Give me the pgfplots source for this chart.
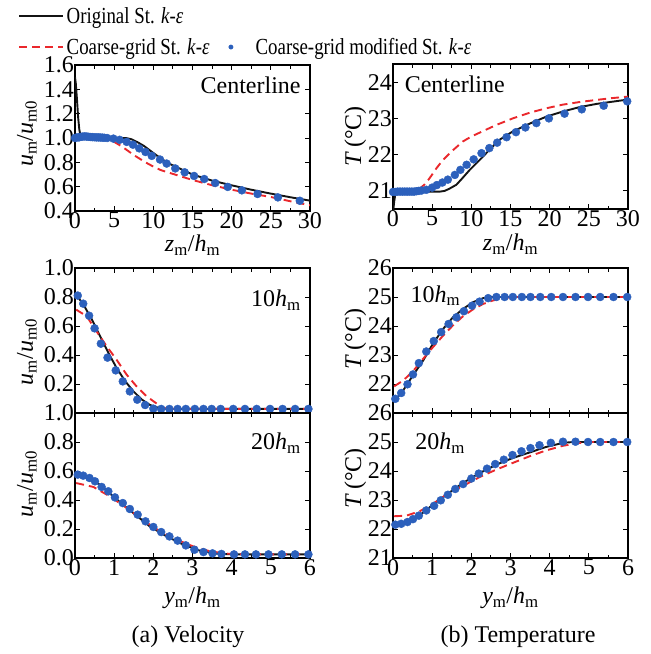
\documentclass[border=0pt]{standalone}
\usepackage{fontspec}
\setmainfont{Liberation Serif}
\newfontfamily\legfont{Liberation Serif}[FakeStretch=0.82]
\usepackage{pgfplots}
\pgfplotsset{compat=1.18}

\definecolor{cblack}{RGB}{20,20,20}
\definecolor{cred}{RGB}{234,40,44}
\definecolor{cblue}{RGB}{44,96,188}

\newcommand{\fs}{\fontsize{24}{26}\selectfont}
\newcommand{\lfs}{\legfont\fontsize{23}{25}\selectfont}
\newcommand{\sub}[1]{\textsubscript{#1}}
\newcommand{\uratio}{\textit{u}\sub{m}/\textit{u}\sub{m0}}
\newcommand{\Tlab}{\textit{T}\,(°C)}

\pgfplotsset{
  panel/.style={
    scale only axis, width=235pt, height=145pt, anchor=north west,
    axis line style={line width=1.1pt},
    every tick/.style={line width=0.9pt, black},
    major tick length=5pt, minor tick length=3.5pt,
    tick label style={font=\fs, inner sep=1pt},
    label style={font=\fs},
    /pgf/number format/assume math mode=true,
    xmin=0,
  },
  vel/.style={yticklabel style={/pgf/number format/.cd, fixed, fixed zerofill, precision=1}},
  prof/.style={xmax=6, xtick={0,1,...,6}, minor x tick num=1},
  orig/.style={cblack, line width=1.9pt, no marks},
  coarse/.style={cred, line width=1.9pt, dash pattern=on 8pt off 5pt, no marks},
  modif/.style={only marks, mark=*, mark size=4pt, color=cblue, mark options={draw=cblue, fill=cblue}},
  modifleg/.style={modif, legend image code/.code={\path (0pt,0pt) (44pt,0pt); \draw[##1, mark size=2.2pt] plot coordinates {(22pt,0pt)};}},
  leg/.style={legend style={draw=none, fill=none, font=\lfs, inner sep=0pt,
    row sep=8pt, nodes={inner sep=2.5pt}}, legend cell align=left},
}

\begin{document}
\begin{tikzpicture}
\useasboundingbox (0,0) rectangle (651pt,-654pt);

% ---------- (a) velocity, centerline
\begin{axis}[panel, vel, leg, at={(75pt,-65pt)}, height=146pt,
  xmax=30, ymin=0.4, ymax=1.6,
  xtick={0,5,...,30}, minor x tick num=1,
  ytick={0.4,0.6,0.8,1.0,1.2,1.4,1.6},
  xlabel={\textit{z}\sub{m}/\textit{h}\sub{m}},
  ylabel={\uratio},
  xlabel style={at={(axis description cs:0.5,-0.235)}, anchor=center},
  ylabel style={at={(axis description cs:-0.205,0.53)}, anchor=center},
  legend style={at={(axis description cs:-0.242,1.411)}, anchor=north west},
  legend image code/.code={\draw[#1] (0pt,0pt) -- (44pt,0pt);},
]
\addplot[orig] coordinates {(0,1.50) (0.1,1.45) (0.25,1.32) (0.4,1.17) (0.55,1.07) (0.7,1.02) (0.9,1.005) (1.2,1.0) (3,1.0) (5,1.0) (6.5,1.0) (7.2,0.99) (8,0.965) (8.8,0.935) (10,0.877) (11,0.83) (12,0.79) (13.5,0.745) (15,0.70) (17.5,0.65) (20,0.611) (22.5,0.575) (25,0.543) (27.5,0.513) (30,0.485)};
\addlegendentry{Original St. \textit{k}-\textit{ε}}
\addplot[coarse] coordinates {(0,1.0) (2,1.0) (3.5,1.0) (4.2,0.99) (5,0.968) (6,0.93) (7.5,0.86) (9,0.8) (10,0.765) (11,0.735) (12.5,0.705) (15,0.655) (17.5,0.612) (20,0.575) (22.5,0.543) (25,0.515) (27.5,0.48) (30,0.447)};
\addlegendentry{Coarse-grid St. \textit{k}-\textit{ε}}
\addplot[modif, forget plot] coordinates {(0,1.0) (0.25,1.005) (0.5,1.005) (0.75,1.01) (1.0,1.012) (1.25,1.013) (1.5,1.012) (1.75,1.01) (2.0,1.008) (2.25,1.007) (2.5,1.006) (2.75,1.005) (3.0,1.005) (3.25,1.004) (3.5,1.003) (3.75,1.002) (4.1,1.0) (4.9,0.995) (5.7,0.985) (6.6,0.968) (7.4,0.945) (8.2,0.915) (9.0,0.885) (9.8,0.853) (10.85,0.823) (11.7,0.79) (12.8,0.75) (14.0,0.718) (15.2,0.688) (16.5,0.663) (17.9,0.63) (19.5,0.598) (21.3,0.57) (23.3,0.54) (25.9,0.512) (28.7,0.484)};
\node[font=\fs, anchor=east] at (axis description cs:0.975,0.86) {Centerline};
\end{axis}

% ---------- (b) temperature, centerline
\begin{axis}[panel, leg, at={(393pt,-64pt)},
  xmax=30, ymin=20.5, ymax=24.5,
  xtick={0,5,...,30}, minor x tick num=1,
  ytick={21,22,23,24},
  xlabel={\textit{z}\sub{m}/\textit{h}\sub{m}},
  ylabel={\Tlab},
  xlabel style={at={(axis description cs:0.5,-0.245)}, anchor=center},
  ylabel style={at={(axis description cs:-0.16,0.5)}, anchor=center},
  legend style={at={(axis description cs:-0.785,1.117)}, anchor=west},
]
\addplot[orig, forget plot] coordinates {(0,20.4) (0.15,20.7) (0.3,20.92) (0.5,21.0) (0.8,21.04) (1.1,21.05) (1.5,21.03) (2,21.0) (4,20.98) (6,20.98) (6.6,21.0) (7.2,21.06) (8.1,21.17) (8.9,21.36) (9.8,21.58) (11.1,21.86) (12.3,22.13) (13.6,22.41) (15.3,22.64) (17.5,22.86) (19.6,23.05) (21.7,23.19) (23.8,23.31) (26,23.4) (28,23.46) (30,23.52)};
\addplot[coarse, forget plot] coordinates {(0,20.97) (1,20.98) (2.5,21.0) (3.0,21.02) (3.5,21.08) (4.0,21.17) (4.5,21.3) (5.0,21.45) (5.5,21.61) (6.0,21.75) (6.6,21.9) (7.7,22.13) (8.9,22.36) (10,22.5) (11.1,22.61) (13.2,22.82) (15.3,23.0) (17.5,23.16) (19.6,23.28) (21.7,23.38) (23.8,23.45) (26,23.51) (28,23.56) (30,23.6)};
\addplot[modif, forget plot] coordinates {(0,20.97) (0.3,20.97) (0.6,20.98) (0.9,20.98) (1.2,20.98) (1.5,20.98) (1.8,20.98) (2.1,20.98) (2.4,20.98) (2.7,20.98) (3.0,20.99) (3.3,21.0) (3.65,21.01) (4.26,21.03) (5.0,21.09) (5.6,21.16) (6.3,21.23) (7.0,21.31) (7.9,21.44) (8.6,21.58) (9.4,21.72) (10.3,21.87) (11.3,22.04) (12.3,22.18) (13.3,22.33) (14.5,22.48) (15.7,22.62) (16.9,22.75) (18.3,22.87) (19.9,23.0) (21.9,23.13) (24.1,23.25) (26.9,23.35) (29.9,23.47)};
\addlegendimage{modifleg}
\addlegendentry{Coarse-grid modified St. \textit{k}-\textit{ε}}
\node[font=\fs, anchor=west] at (axis description cs:0.035,0.86) {Centerline};
\end{axis}

% ---------- (a) velocity, 10 hm
\begin{axis}[panel, vel, prof, at={(75pt,-268pt)},
  ymin=0, ymax=1.0, ytick={0.2,0.4,0.6,0.8,1.0}, xticklabels={},
  ylabel={\uratio},
  ylabel style={at={(axis description cs:-0.205,0.42)}, anchor=center},
]
\addplot[orig] coordinates {(0.03,0.816) (0.21,0.75) (0.43,0.646) (0.64,0.53) (0.85,0.416) (1.06,0.312) (1.28,0.22) (1.49,0.15) (1.7,0.094) (1.91,0.056) (2.13,0.036) (2.34,0.029) (3,0.028) (4,0.028) (5,0.028) (6,0.028)};
\addplot[coarse] coordinates {(0.03,0.713) (0.3,0.667) (0.55,0.563) (0.81,0.46) (1.06,0.368) (1.32,0.264) (1.57,0.184) (1.83,0.115) (2.09,0.064) (2.26,0.034) (2.5,0.028) (4,0.028) (6,0.028)};
\addplot[modif] coordinates {(0.07,0.81) (0.21,0.754) (0.36,0.671) (0.5,0.584) (0.66,0.478) (0.83,0.382) (1.04,0.294) (1.22,0.218) (1.4,0.149) (1.59,0.092) (1.79,0.055) (2.0,0.03) (2.2,0.028) (2.41,0.028) (2.62,0.028) (2.83,0.028) (3.06,0.028) (3.28,0.028) (3.49,0.028) (3.72,0.028) (4.04,0.028) (4.34,0.028) (4.64,0.028) (4.98,0.028) (5.3,0.028) (5.62,0.028) (5.96,0.028)};
\node[font=\fs, anchor=east] at (axis description cs:0.975,0.78) {10\textit{h}\sub{m}};
\end{axis}

% ---------- (a) velocity, 20 hm
\begin{axis}[panel, vel, prof, at={(75pt,-413pt)},
  ymin=0, ymax=1.0, ytick={0,0.2,0.4,0.6,0.8,1.0},
  xlabel={\textit{y}\sub{m}/\textit{h}\sub{m}},
  ylabel={\uratio},
  xlabel style={at={(axis description cs:0.5,-0.276)}, anchor=center},
  ylabel style={at={(axis description cs:-0.205,0.51)}, anchor=center},
]
\addplot[orig] coordinates {(0.03,0.568) (0.3,0.552) (0.64,0.506) (1.02,0.414) (1.49,0.31) (1.91,0.218) (2.34,0.149) (2.77,0.092) (3.19,0.05) (3.62,0.03) (4.04,0.025) (5,0.025) (6,0.025)};
\addplot[coarse] coordinates {(0.03,0.517) (0.47,0.49) (0.89,0.425) (1.32,0.345) (1.74,0.26) (2.17,0.184) (2.6,0.126) (3.02,0.08) (3.45,0.046) (3.87,0.03) (4.3,0.025) (6,0.025)};
\addplot[modif] coordinates {(0.07,0.575) (0.21,0.568) (0.37,0.552) (0.51,0.529) (0.68,0.49) (0.85,0.46) (1.02,0.418) (1.22,0.379) (1.4,0.338) (1.6,0.299) (1.8,0.253) (2.0,0.214) (2.2,0.179) (2.41,0.149) (2.62,0.12) (2.83,0.087) (3.05,0.057) (3.28,0.041) (3.51,0.032) (3.74,0.028) (4.06,0.025) (4.34,0.025) (4.62,0.025) (4.94,0.025) (5.28,0.025) (5.62,0.025) (5.96,0.025)};
\node[font=\fs, anchor=east] at (axis description cs:0.975,0.79) {20\textit{h}\sub{m}};
\end{axis}

% ---------- (b) temperature, 10 hm
\begin{axis}[panel, prof, at={(393pt,-268pt)},
  ymin=21, ymax=26, ytick={22,23,24,25,26}, xticklabels={},
  ylabel={\Tlab},
  ylabel style={at={(axis description cs:-0.16,0.51)}, anchor=center},
]
\addplot[orig] coordinates {(0.04,21.41) (0.26,21.78) (0.51,22.3) (0.77,22.81) (1.02,23.39) (1.28,23.9) (1.53,24.3) (1.79,24.59) (2.04,24.82) (2.3,24.96) (2.55,25.0) (4,25.0) (6,25.0)};
\addplot[coarse] coordinates {(0.03,21.92) (0.26,22.12) (0.51,22.44) (0.77,22.87) (1.02,23.27) (1.28,23.67) (1.53,24.02) (1.79,24.34) (2.04,24.57) (2.3,24.76) (2.55,24.88) (2.81,24.96) (3.06,25.0) (6,25.0)};
\addplot[modif] coordinates {(0.06,21.49) (0.21,21.69) (0.37,21.99) (0.51,22.33) (0.66,22.72) (0.85,23.12) (1.04,23.48) (1.23,23.79) (1.42,24.07) (1.62,24.3) (1.81,24.51) (2.02,24.7) (2.21,24.84) (2.43,24.96) (2.64,25.0) (2.85,25.0) (3.06,25.0) (3.29,25.0) (3.51,25.0) (3.76,25.0) (4.04,25.0) (4.34,25.0) (4.66,25.0) (4.98,25.0) (5.29,25.0) (5.63,25.0) (5.98,25.0)};
\node[font=\fs, anchor=west] at (axis description cs:0.06,0.81) {10\textit{h}\sub{m}};
\end{axis}

% ---------- (b) temperature, 20 hm
\begin{axis}[panel, prof, at={(393pt,-413pt)},
  ymin=21, ymax=26, ytick={21,22,23,24,25,26},
  xlabel={\textit{y}\sub{m}/\textit{h}\sub{m}},
  ylabel={\Tlab},
  xlabel style={at={(axis description cs:0.5,-0.276)}, anchor=center},
  ylabel style={at={(axis description cs:-0.16,0.55)}, anchor=center},
]
\addplot[orig] coordinates {(0.03,22.18) (0.34,22.24) (0.68,22.47) (1.02,22.84) (1.36,23.18) (1.79,23.59) (2.21,23.93) (2.64,24.22) (3.06,24.45) (3.49,24.64) (3.91,24.83) (4.34,24.97) (4.6,25.0) (6,25.0)};
\addplot[coarse] coordinates {(0.03,22.44) (0.34,22.46) (0.68,22.61) (1.02,22.87) (1.36,23.18) (1.79,23.49) (2.21,23.79) (2.64,24.05) (3.06,24.28) (3.49,24.51) (3.91,24.71) (4.34,24.87) (4.77,24.97) (5.1,25.0) (6,25.0)};
\addplot[modif] coordinates {(0.06,22.15) (0.21,22.18) (0.37,22.24) (0.51,22.34) (0.66,22.46) (0.85,22.64) (1.05,22.8) (1.22,22.99) (1.4,23.18) (1.59,23.38) (1.79,23.55) (2.0,23.74) (2.19,23.91) (2.4,24.08) (2.61,24.24) (2.83,24.39) (3.05,24.55) (3.28,24.68) (3.51,24.79) (3.74,24.89) (4.03,24.97) (4.34,25.01) (4.66,25.01) (4.98,25.0) (5.29,25.0) (5.63,25.0) (5.98,25.0)};
\node[font=\fs, anchor=west] at (axis description cs:0.08,0.79) {20\textit{h}\sub{m}};
\end{axis}

\node[font=\fs] at (188pt,-637pt) {(a) Velocity};
\node[font=\fs] at (518pt,-637pt) {(b) Temperature};
\end{tikzpicture}
\end{document}
